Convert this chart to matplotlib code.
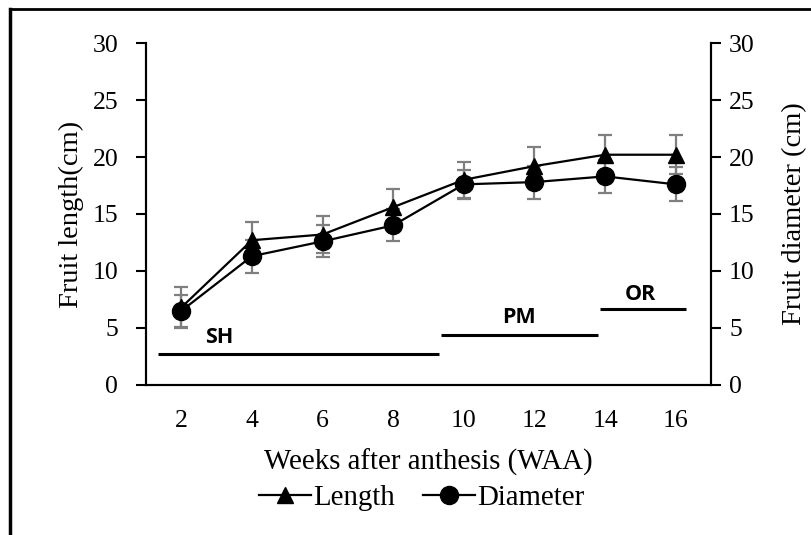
import matplotlib.pyplot as plt
from matplotlib.lines import Line2D

weeks = [2, 4, 6, 8, 10, 12, 14, 16]
length = [6.8, 12.7, 13.2, 15.6, 18.0, 19.2, 20.2, 20.2]
length_err = [1.8, 1.6, 1.6, 1.6, 1.6, 1.7, 1.75, 1.7]
diameter = [6.5, 11.3, 12.6, 14.0, 17.6, 17.8, 18.3, 17.6]
diameter_err = [1.4, 1.45, 1.4, 1.4, 1.3, 1.45, 1.45, 1.5]

# growth stages: label, start week, end week, level (cm)
stages = ["SH", "PM", "OR"]
stage_start = [1.34, 9.35, 13.85]
stage_end = [9.3, 13.8, 16.3]
stage_level = [2.7, 4.4, 6.7]
stage_text_x = [2.67, 11.08, 14.57]
stage_text_y = [4.2, 5.9, 7.9]

plt.rcParams['font.family'] = ['Liberation Serif']

fig = plt.figure(figsize=(8.12, 5.35), dpi=100)
ax = fig.add_axes([0.1798, 0.2804, 0.8756 - 0.1798, 0.9196 - 0.2804])

grey = '#7f7f7f'
ax.errorbar(weeks, length, yerr=length_err, fmt='none', ecolor=grey,
            elinewidth=1.6, capsize=5, capthick=1.6, zorder=2)
ax.errorbar(weeks, diameter, yerr=diameter_err, fmt='none', ecolor=grey,
            elinewidth=1.6, capsize=5, capthick=1.6, zorder=2)
ax.plot(weeks, length, color='black', lw=1.6, marker='^', ms=11,
        label='Length', zorder=3)
ax.plot(weeks, diameter, color='black', lw=1.6, marker='o', ms=13,
        label='Diameter', zorder=3)

for name, x0, x1, lev, tx, ty in zip(stages, stage_start, stage_end,
                                      stage_level, stage_text_x, stage_text_y):
    ax.plot([x0, x1], [lev, lev], color='black', lw=2.2, solid_capstyle='butt')
    ax.text(tx, ty, name, fontsize=15.5, fontweight='bold', family='Open Sans',
            ha='left', va='center')

ax.set_xlim(1, 17)
ax.set_ylim(0, 30)
ax.set_xticks(weeks)
ax.set_yticks(range(0, 31, 5))
ax.tick_params(axis='x', length=0, pad=18, labelsize=18.5)
ax.tick_params(axis='y', direction='out', length=7, width=1.5, labelsize=18.5, pad=13)
ax.spines['top'].set_visible(False)
for s in ['left', 'right', 'bottom']:
    ax.spines[s].set_linewidth(1.5)
ax.set_ylabel('Fruit length(cm)', fontsize=20.5, labelpad=6)
ax.set_xlabel('Weeks after anthesis (WAA)', fontsize=20.8, labelpad=12)

ax2 = ax.twinx()
ax2.set_ylim(0, 30)
ax2.set_yticks(range(0, 31, 5))
ax2.tick_params(axis='y', direction='out', length=7, width=1.5, labelsize=18.5, pad=6)
ax2.spines['top'].set_visible(False)
for s in ['left', 'right', 'bottom']:
    ax2.spines[s].set_linewidth(1.5)
ax2.set_ylabel('Fruit diameter (cm)', fontsize=20.5, labelpad=20)

ax.legend(loc='center', bbox_to_anchor=(0.488, -0.33), ncol=2, frameon=False,
          fontsize=20.8, handlelength=1.8, handletextpad=0.05, columnspacing=1.0,
          borderpad=0)

# outer frame (top and left edges visible)
fig.add_artist(Line2D([10 / 812, 10 / 812], [0, 1 - 9 / 535], color='black',
                      lw=2.5, transform=fig.transFigure))
fig.add_artist(Line2D([10 / 812, 1], [1 - 9 / 535, 1 - 9 / 535], color='black',
                      lw=2.0, transform=fig.transFigure))

fig.savefig('out.png', dpi=100)
